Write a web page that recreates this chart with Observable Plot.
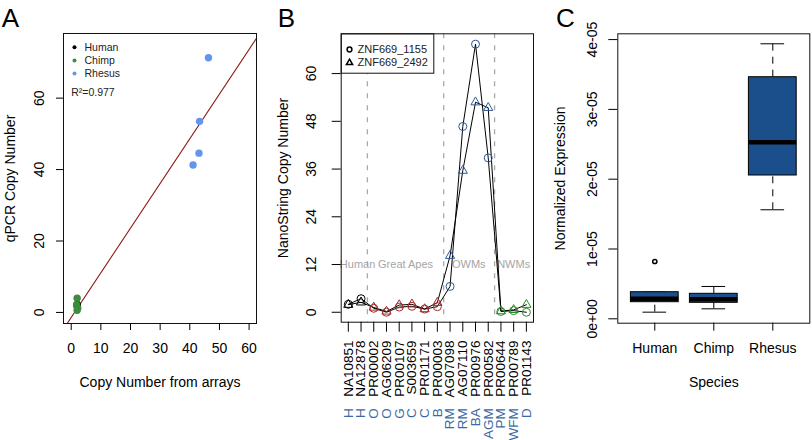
<!DOCTYPE html>
<html><head><meta charset="utf-8">
<script src="https://cdn.jsdelivr.net/npm/d3@7"></script>
<script src="https://cdn.jsdelivr.net/npm/@observablehq/plot@0.6"></script>
<style>
body{margin:0;background:#fff;}
#wrap{position:relative;width:812px;height:440px;overflow:hidden;background:#fff;}
#wrap svg{position:absolute;top:0;}
</style></head><body><div id="wrap"></div>
<script>
// ---------- Panel A data ----------
const speciesA = ["Human", "Chimp", "Rhesus"];
const humanArrayCN = [2.0, 2.0];
const humanQpcrCN = [2.2, 1.8];
const chimpArrayCN = [2.0, 1.8, 2.2, 2.0];
const chimpQpcrCN = [4.0, 2.1, 1.2, 0.6];
const rhesusArrayCN = [46.3, 43.3, 43.1, 41.1];
const rhesusQpcrCN = [71.3, 53.5, 44.6, 41.3];
const fitIntercept = -1.41;
const fitSlope = 1.251;
const r2Label = "R²=0.977";
const xTicksA = [0, 10, 20, 30, 40, 50, 60];
const yTicksA = [0, 20, 40, 60];

// ---------- Panel B data ----------
const sampleIds = ["NA10851","NA12878","PR00002","AG06209","PR00107","S003659","PR01171","PR00003","AG07098","AG07110","PR00976","PR00582","PR00644","PR00789","PR01143"];
const speciesCodes = ["H","H","O","O","G","C","C","B","RM","RM","BA","AGM","PM","WFM","D"];
const sampleGroup = ["Human","Human","Great Apes","Great Apes","Great Apes","Great Apes","Great Apes","Great Apes","OWMs","OWMs","OWMs","OWMs","NWMs","NWMs","NWMs"];
const probe1155 = [2.0, 3.4, 1.0, 0.0, 1.3, 1.5, 0.8, 1.4, 6.5, 46.7, 67.4, 38.8, 0.2, 0.4, 0.0];
const probe2492 = [1.9, 2.5, 1.2, 0.2, 1.8, 2.0, 0.8, 2.4, 14.2, 35.6, 52.8, 51.4, 0.3, 0.6, 1.9];
const probeNames = ["ZNF669_1155", "ZNF669_2492"];
const groupNames = ["Human", "Great Apes", "OWMs", "NWMs"];
const groupLabelX = [1.73, 5.5, 10.47, 14.0];
const groupLabelY = 12;
const groupBoundaries = [2.5, 8.5, 12.5];
const yTicksB = [0, 12, 24, 36, 48, 60];

// ---------- Panel C data ----------
const speciesC = ["Human", "Chimp", "Rhesus"];
const whiskerLow = [0.095e-5, 0.143e-5, 1.562e-5];
const quart1 = [0.238e-5, 0.229e-5, 2.053e-5];
const medians = [0.288e-5, 0.281e-5, 2.530e-5];
const quart3 = [0.381e-5, 0.358e-5, 3.461e-5];
const whiskerHigh = [0.381e-5, 0.463e-5, 3.940e-5];
const outlierSpecies = ["Human"];
const outlierValues = [0.821e-5];
const yTicksC = [0, 1e-5, 2e-5, 3e-5, 4e-5];
const yTickLabelsC = ["0e+00", "1e-05", "2e-05", "3e-05", "4e-05"];

// ---------- shared style ----------
const FONT = "Liberation Sans, Arial, Helvetica, sans-serif";
const baseStyle = {fontFamily: FONT, fontSize: "14px", color: "black", background: "transparent", overflow: "visible"};
const wrap = document.getElementById("wrap");
const place = (svg, left) => { svg.style.left = left + "px"; wrap.appendChild(svg); };
const MID = {textAnchor: "middle", lineAnchor: "middle"};
const LEFTMID = {textAnchor: "start", lineAnchor: "middle"};

// ================= Panel A =================
const colorA = {Human: "#000000", Chimp: "#3d8b3d", Rhesus: "#6495ed"};
const ptsA = [
  ...humanArrayCN.map((x, i) => ({species: "Human", x, y: humanQpcrCN[i]})),
  ...chimpArrayCN.map((x, i) => ({species: "Chimp", x, y: chimpQpcrCN[i]})),
  ...rhesusArrayCN.map((x, i) => ({species: "Rhesus", x, y: rhesusQpcrCN[i]}))
];
const xDomA = [-2.6, 62.5];
const fitLine = xDomA.map(x => ({x, y: fitIntercept + fitSlope * x}));

const plotA = Plot.plot({
  width: 270, height: 440,
  marginLeft: 63, marginRight: 14, marginTop: 33, marginBottom: 117,
  style: baseStyle,
  x: {domain: xDomA}, y: {domain: [-3.1, 78.1]},
  color: {type: "identity"},
  marks: [
    Plot.line(fitLine, {x: "x", y: "y", stroke: "#8b1a1a", strokeWidth: 1.1, clip: true}),
    Plot.dot(ptsA, {x: "x", y: "y", fill: d => colorA[d.species], r: 3.7}),
    Plot.frame({stroke: "#111"}),
    Plot.axisX({ticks: xTicksA, tickSize: 7, tickFormat: () => "", label: null}),
    Plot.axisY({ticks: yTicksA, tickSize: 7, tickFormat: () => "", label: null}),
    Plot.text(xTicksA, {x: d => d, text: d => String(d), frameAnchor: "bottom", dy: 25, fontSize: 14, ...MID}),
    Plot.text(yTicksA, {y: d => d, text: d => String(d), frameAnchor: "left", dx: -24, rotate: -90, fontSize: 14, ...MID}),
    Plot.text(["Copy Number from arrays"], {frameAnchor: "bottom", dy: 59, fontSize: 14, ...MID}),
    Plot.text(["qPCR Copy Number"], {frameAnchor: "left", dx: -53, rotate: -90, fontSize: 14, ...MID}),
    Plot.text(["A"], {frameAnchor: "top-left", dx: -53, dy: -14.5, fontSize: 26, ...MID}),
    ...speciesA.map((s, i) => Plot.dot([s], {frameAnchor: "top-left", dx: 11, dy: 13.7 + i * 13.2, r: 2, fill: colorA[s]})),
    ...speciesA.map((s, i) => Plot.text([s], {frameAnchor: "top-left", dx: 21, dy: 13.7 + i * 13.2, fontSize: 10.5, fill: "#222", ...LEFTMID})),
    Plot.text([r2Label], {frameAnchor: "top-left", dx: 7.7, dy: 58.7, fontSize: 10.5, fill: "#222", ...LEFTMID})
  ]
});
place(plotA, 0);

// ================= Panel B =================
const groupColor = {"Human": "#000000", "Great Apes": "#a52a2a", "OWMs": "#2e5a99", "NWMs": "#2a8a2a"};
const samples = sampleIds.map((id, i) => ({
  id, code: speciesCodes[i], group: sampleGroup[i], pos: i + 1,
  v1155: probe1155[i], v2492: probe2492[i]
}));
const frameWB = 270 - 70.7 - 7, frameHB = 440 - 33.3 - 118.3;
const plotB = Plot.plot({
  width: 270, height: 440,
  marginLeft: 70.7, marginRight: 7, marginTop: 33.3, marginBottom: 118.3,
  style: baseStyle,
  x: {domain: [0.44, 15.56]}, y: {domain: [-2.5, 70]},
  color: {type: "identity"},
  marks: [
    Plot.ruleX(groupBoundaries, {x: d => d, stroke: "#a8a8a8", strokeDasharray: "5,7", strokeWidth: 1.3}),
    Plot.text(groupNames, {x: (d, i) => groupLabelX[i], y: () => groupLabelY, text: d => d, fill: "#a5a5a5", fontSize: 11, ...MID}),
    Plot.line(samples, {x: "pos", y: "v1155", stroke: "black", strokeWidth: 1}),
    Plot.line(samples, {x: "pos", y: "v2492", stroke: "black", strokeWidth: 1}),
    Plot.dot(samples, {x: "pos", y: "v1155", stroke: d => groupColor[d.group], fill: "none", r: 4, strokeWidth: 1}),
    Plot.dot(samples, {x: "pos", y: "v2492", stroke: d => groupColor[d.group], fill: "none", symbol: "triangle", r: 3.4, strokeWidth: 1}),
    Plot.frame({stroke: "#111", fill: "white", insetRight: frameWB - 92.6, insetBottom: frameHB - 39.4}),
    Plot.dot([probeNames[0]], {frameAnchor: "top-left", dx: 8.3, dy: 15.7, r: 2.4, stroke: "black", fill: "none"}),
    Plot.dot([probeNames[1]], {frameAnchor: "top-left", dx: 8.3, dy: 29, r: 2.3, symbol: "triangle", stroke: "black", fill: "none"}),
    ...probeNames.map((p, i) => Plot.text([p], {frameAnchor: "top-left", dx: 16.3, dy: 15.7 + i * 13, fontSize: 11, fill: "#222", ...LEFTMID})),
    Plot.frame({stroke: "#111"}),
    Plot.axisX({ticks: samples.map(d => d.pos), tickSize: 10, tickFormat: () => "", label: null}),
    Plot.axisY({ticks: yTicksB, tickSize: 9, tickFormat: () => "", label: null}),
    Plot.text(yTicksB, {y: d => d, text: d => String(d), frameAnchor: "left", dx: -30, rotate: -90, fontSize: 14, ...MID}),
    Plot.text(samples, {x: "pos", text: "id", frameAnchor: "bottom", dy: 18.3, rotate: -90, textAnchor: "end", lineAnchor: "middle", fontSize: 13.5}),
    Plot.text(samples, {x: "pos", text: "code", frameAnchor: "bottom", dy: 86, rotate: -90, textAnchor: "end", lineAnchor: "middle", fontSize: 13.5, fill: "#3b6aa3"}),
    Plot.text(["NanoString Copy Number"], {frameAnchor: "left", dx: -58, rotate: -90, fontSize: 14, ...MID}),
    Plot.text(["B"], {frameAnchor: "top-left", dx: -54.7, dy: -14.8, fontSize: 26, ...MID})
  ]
});
place(plotB, 270);

// ================= Panel C =================
const boxes = speciesC.map((s, i) => ({
  species: s, pos: i + 1, lo: whiskerLow[i], q1: quart1[i], med: medians[i], q3: quart3[i], hi: whiskerHigh[i]
}));
const outliers = outlierSpecies.map((s, i) => ({pos: speciesC.indexOf(s) + 1, v: outlierValues[i]}));
const BW = 0.405, CW = 0.2;
const plotC = Plot.plot({
  width: 272, height: 440,
  marginLeft: 77.3, marginRight: 2.7, marginTop: 33.3, marginBottom: 117.3,
  style: baseStyle,
  x: {domain: [0.373, 3.627]}, y: {domain: [-0.063e-5, 4.083e-5]},
  marks: [
    Plot.ruleX(boxes, {x: "pos", y1: "q3", y2: "hi", stroke: "black", strokeDasharray: "7,6"}),
    Plot.ruleX(boxes, {x: "pos", y1: "lo", y2: "q1", stroke: "black", strokeDasharray: "7,6"}),
    Plot.ruleY(boxes, {y: "hi", x1: d => d.pos - CW, x2: d => d.pos + CW, stroke: "black"}),
    Plot.ruleY(boxes, {y: "lo", x1: d => d.pos - CW, x2: d => d.pos + CW, stroke: "black"}),
    Plot.rect(boxes, {x1: d => d.pos - BW, x2: d => d.pos + BW, y1: "q1", y2: "q3", fill: "#1b4f8c", stroke: "black"}),
    Plot.ruleY(boxes, {y: "med", x1: d => d.pos - BW, x2: d => d.pos + BW, stroke: "black", strokeWidth: 4.5}),
    Plot.dot(outliers, {x: "pos", y: "v", r: 2.1, stroke: "black", fill: "none"}),
    Plot.frame({stroke: "#111"}),
    Plot.axisX({ticks: boxes.map(d => d.pos), tickSize: 8, tickFormat: () => "", label: null}),
    Plot.axisY({ticks: yTicksC, tickSize: 9, tickFormat: () => "", label: null}),
    Plot.text(boxes, {x: "pos", text: "species", frameAnchor: "bottom", dy: 25.6, fontSize: 14, ...MID}),
    Plot.text(yTicksC, {y: d => d, text: (d, i) => yTickLabelsC[i], frameAnchor: "left", dx: -25, rotate: -90, fontSize: 14, ...MID}),
    Plot.text(["Species"], {frameAnchor: "bottom", dy: 59.6, fontSize: 14, ...MID}),
    Plot.text(["Normalized Expression"], {frameAnchor: "left", dx: -57, rotate: -90, fontSize: 14, ...MID}),
    Plot.text(["C"], {frameAnchor: "top-left", dx: -52.3, dy: -14.8, fontSize: 26, ...MID})
  ]
});
place(plotC, 540);
</script></body></html>
